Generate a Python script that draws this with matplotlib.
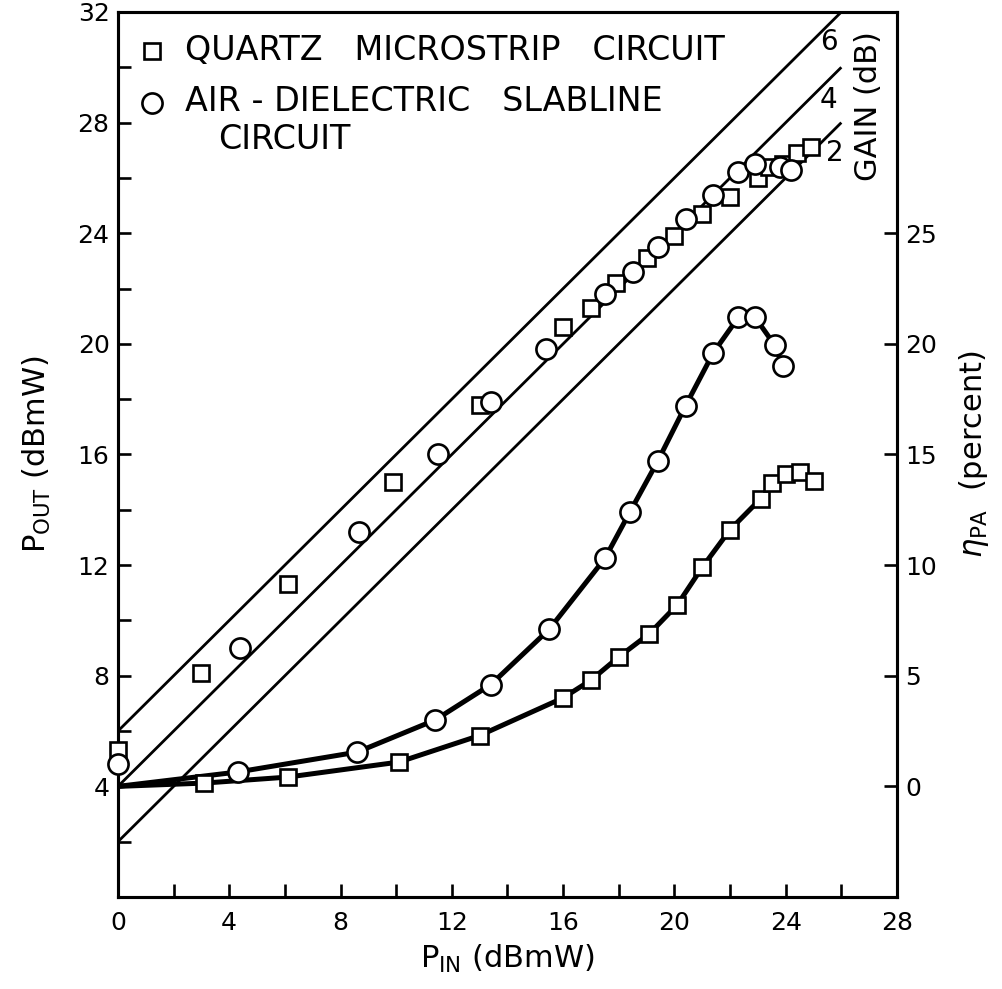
import numpy as np
import matplotlib
matplotlib.use('Agg')
import matplotlib.pyplot as plt
from matplotlib.ticker import FixedLocator

plt.rcParams['font.family'] = ['DejaVu Sans']
plt.rcParams['mathtext.fontset'] = 'dejavusans'

# =============================================================================
# Datos
# =============================================================================
# P_OUT frente a P_IN (eje izquierdo, dBmW)
quartz_pin = [0.0, 3.0, 6.1, 9.9, 13.0, 16.0, 17.0, 17.9, 19.0, 20.0, 21.0, 22.0,
              23.0, 23.4, 23.9, 24.4, 24.9]
quartz_pout = [5.3, 8.1, 11.3, 15.0, 17.8, 20.6, 21.3, 22.2, 23.1, 23.9, 24.7, 25.3,
               26.0, 26.4, 26.5, 26.9, 27.1]

air_pin = [0.0, 4.4, 8.65, 11.5, 13.4, 15.4, 17.5, 18.5, 19.4, 20.4, 21.4, 22.3,
           22.9, 23.8, 24.2]
air_pout = [4.8, 9.0, 13.2, 16.0, 17.9, 19.8, 21.8, 22.6, 23.5, 24.5, 25.4, 26.2,
            26.5, 26.4, 26.3]

# eficiencia eta_PA frente a P_IN (eje derecho, %)
quartz_pin_eta = [3.1, 6.1, 10.1, 13.0, 16.0, 17.0, 18.0, 19.1, 20.1, 21.0, 22.0,
                  23.1, 23.5, 24.0, 24.5, 25.0]
quartz_eta = [0.15, 0.42, 1.1, 2.3, 4.0, 4.8, 5.85, 6.9, 8.2, 9.9, 11.6,
              13.0, 13.7, 14.1, 14.2, 13.8]

air_pin_eta = [4.3, 8.6, 11.4, 13.4, 15.5, 17.5, 18.4, 19.4, 20.4, 21.4, 22.3,
               22.9, 23.6, 23.9]
air_eta = [0.65, 1.55, 3.0, 4.6, 7.1, 10.3, 12.4, 14.7, 17.2, 19.6, 21.2,
           21.2, 19.95, 19.0]

# las curvas ajustadas empiezan en P_IN = 0, eta = 0
curve_start = (0.0, 0.0)
quartz_curve_end = 13   # la curva del cuarzo termina en 23.5 dBmW

# líneas de ganancia constante P_OUT = P_IN + G
gains = [2, 4, 6]
gain_pin_end = 26.0

# =============================================================================
# Figura
# =============================================================================
fig = plt.figure(figsize=(10.03, 9.89), dpi=100)
ax = fig.add_axes([0.1176, 0.0930, 0.7767, 0.8949])
ax2 = ax.twinx()

lw_axis = 2.2
for a in (ax, ax2):
    for s in a.spines.values():
        s.set_linewidth(lw_axis)

ax.set_xlim(0, 28)
ax.set_ylim(0, 32)
ax2.set_ylim(-5, 35)

# líneas de ganancia
for g in gains:
    ax.plot([0, gain_pin_end], [g, gain_pin_end + g], color='black', lw=2.0,
            solid_capstyle='butt', zorder=2)

# curvas de eficiencia
cx = [curve_start[0]] + air_pin_eta
cy = [curve_start[1]] + air_eta
ax2.plot(cx, cy, color='black', lw=3.6, solid_joinstyle='round', zorder=3)
cx = [curve_start[0]] + quartz_pin_eta[:quartz_curve_end]
cy = [curve_start[1]] + quartz_eta[:quartz_curve_end]
ax2.plot(cx, cy, color='black', lw=3.6, solid_joinstyle='round', zorder=3)

sq = dict(marker='s', ms=11.5, mfc='white', mec='black', mew=1.9, ls='none',
          zorder=5, clip_on=False)
ci = dict(marker='o', ms=14.5, mfc='white', mec='black', mew=1.9, ls='none',
          zorder=5, clip_on=False)

ax.plot(quartz_pin, quartz_pout, **sq)
ax.plot(air_pin, air_pout, **ci)
ax2.plot(quartz_pin_eta, quartz_eta, **sq)
ax2.plot(air_pin_eta, air_eta, **ci)
ax.set_zorder(ax2.get_zorder() + 1)
ax.patch.set_visible(False)

# ticks
ax.xaxis.set_major_locator(FixedLocator(np.arange(0, 29, 4)))
ax.xaxis.set_minor_locator(FixedLocator(np.arange(2, 28, 4)))
ax.yaxis.set_major_locator(FixedLocator(np.arange(4, 33, 4)))
ax.yaxis.set_minor_locator(FixedLocator(np.arange(2, 32, 4)))
ax.tick_params(axis='both', which='both', direction='in', length=9.5, width=1.9,
               top=False, right=False, labelsize=18)
ax.tick_params(axis='x', pad=10)
ax.tick_params(axis='y', pad=6)

ax2.yaxis.set_major_locator(FixedLocator([0, 5, 10, 15, 20, 25]))
ax2.tick_params(axis='y', which='both', direction='in', length=9.5, width=1.9,
                labelsize=18, pad=6)
ax2.tick_params(axis='x', which='both', top=False, bottom=False)

ax.set_xlabel('P$_{\\mathrm{IN}}$ (dBmW)', fontsize=22, labelpad=6)
ax.set_ylabel('P$_{\\mathrm{OUT}}$ (dBmW)', fontsize=22, labelpad=18)
ax2.set_ylabel('$\\eta_{\\mathrm{PA}}$  (percent)', fontsize=22, labelpad=14)

# etiquetas de ganancia
ax.text(25.55, 30.9, '6', fontsize=20, ha='center', va='center')
ax.text(25.55, 28.8, '4', fontsize=20, ha='center', va='center')
ax.text(25.75, 26.9, '2', fontsize=20, ha='center', va='center')
ax.text(26.96, 28.6, 'GAIN (dB)', fontsize=22, rotation=90, ha='center', va='center')

# leyenda dibujada a mano
ax.plot([1.22], [30.6], **sq)
ax.plot([1.22], [28.7], **ci)
ax.text(2.4, 30.6, 'QUARTZ   MICROSTRIP   CIRCUIT', fontsize=24, va='center')
ax.text(2.4, 28.75, 'AIR - DIELECTRIC   SLABLINE', fontsize=24, va='center')
ax.text(3.6, 27.4, 'CIRCUIT', fontsize=24, va='center')

fig.savefig('out.png', dpi=100)
